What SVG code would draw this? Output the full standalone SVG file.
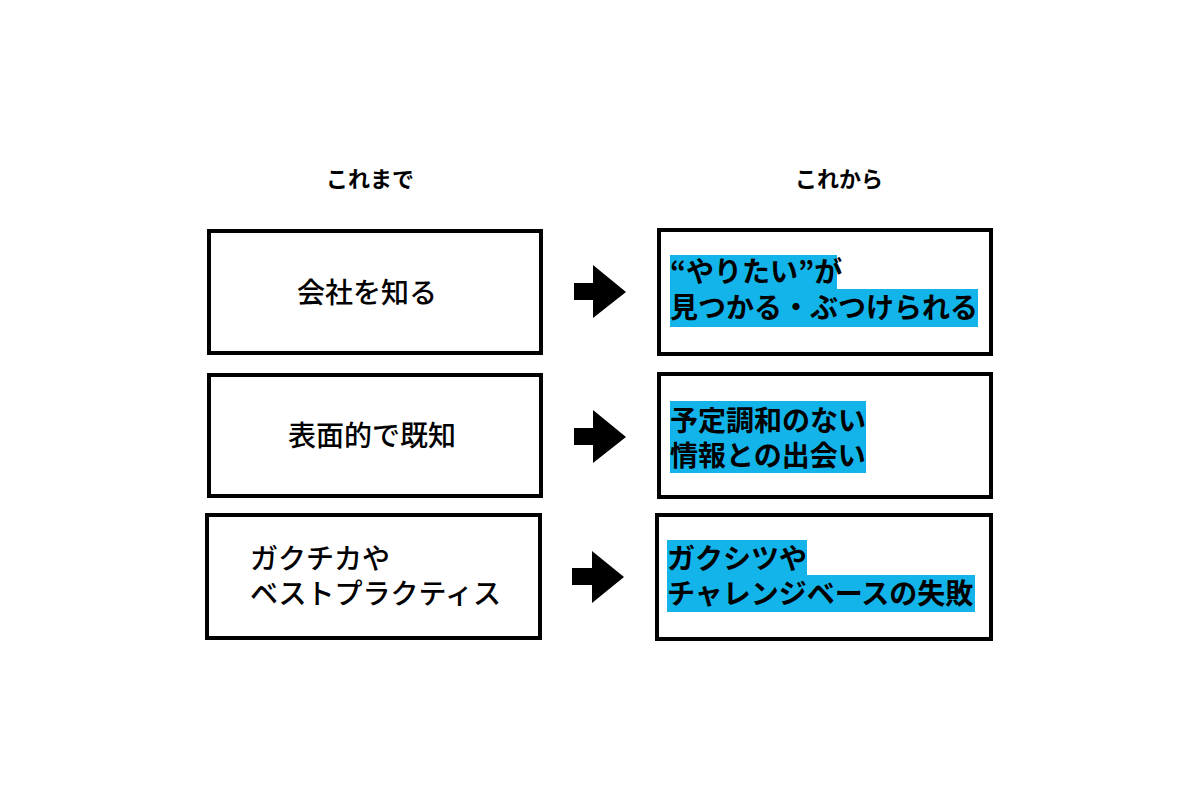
<svg xmlns="http://www.w3.org/2000/svg" width="1200" height="800" viewBox="0 0 1200 800">
<style>
.box{fill:#fff;stroke:#000;stroke-width:4}
.t{font-family:"Noto Sans CJK JP","Noto Sans CJK SC",sans-serif;font-size:28px;fill:#000}
.lt{font-weight:500}
.rt{font-weight:700}
.hd{font-family:"Noto Sans CJK JP","Noto Sans CJK SC",sans-serif;font-size:22px;font-weight:700;fill:#000;text-anchor:middle}
.hl{fill:#12b4ea}
.arr{fill:#000}
</style>
<rect width="1200" height="800" fill="#fff"/>
<g id="headers">
<text class="hd" x="370" y="187">これまで</text>
<text class="hd" x="839" y="187">これから</text>
</g>
<g id="before1">
<rect class="box" x="209" y="231" width="332" height="122"/>
<text class="t lt" x="297" y="303">会社を知る</text>
</g>
<g id="before2">
<rect class="box" x="209" y="375" width="332" height="121"/>
<text class="t lt" x="288" y="446">表面的で既知</text>
</g>
<g id="before3">
<rect class="box" x="207" y="515" width="333" height="123"/>
<text class="t lt"><tspan x="250" y="569">ガクチカや</tspan><tspan x="250" y="604">ベストプラクティス</tspan></text>
</g>
<g id="after1">
<rect class="box" x="659" y="230" width="332" height="124"/>
<rect class="hl" x="670" y="255" width="167" height="35"/>
<rect class="hl" x="670" y="289" width="308" height="38"/>
<text class="t rt"><tspan x="670" y="282">“やりたい”が</tspan><tspan x="670" y="318">見つかる・ぶつけられる</tspan></text>
</g>
<g id="after2">
<rect class="box" x="659" y="374" width="332" height="123"/>
<rect class="hl" x="670" y="401" width="196" height="72"/>
<text class="t rt"><tspan x="670" y="431">予定調和のない</tspan><tspan x="670" y="466">情報との出会い</tspan></text>
</g>
<g id="after3">
<rect class="box" x="657" y="515" width="334" height="124"/>
<rect class="hl" x="667" y="540" width="140" height="36"/>
<rect class="hl" x="667" y="575" width="308" height="37"/>
<text class="t rt"><tspan x="667" y="569">ガクシツや</tspan><tspan x="667" y="604">チャレンジベースの失敗</tspan></text>
</g>
<g id="connectors">
<polygon class="arr" points="574,283 593,283 593,265 626,292 593,318 593,300 574,300"/>
<polygon class="arr" points="574,428 593,428 593,410 626,437 593,463 593,445 574,445"/>
<polygon class="arr" points="572,568 592,568 592,551 624,577 592,603 592,585 572,585"/>
</g>
</svg>
